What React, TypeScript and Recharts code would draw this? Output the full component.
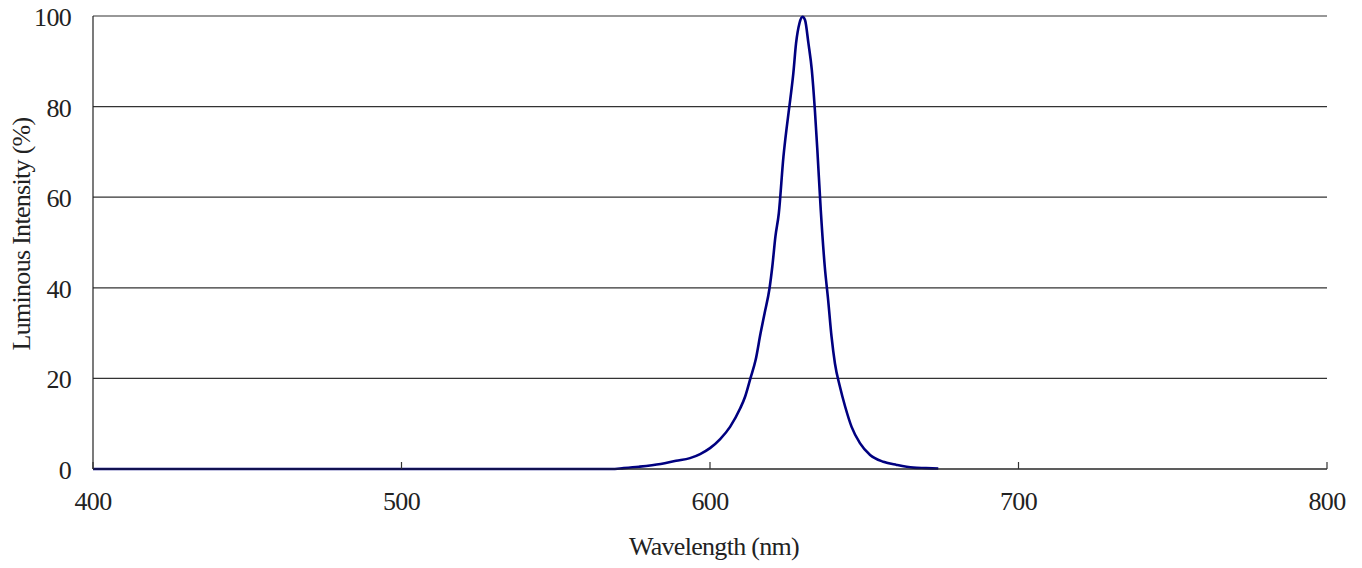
import React from 'react';
import { LineChart, Line, XAxis, YAxis, CartesianGrid, Label } from 'recharts';

const wavelengths = [
  400, 450, 500, 550, 568, 572, 577, 584, 589, 593.5, 596.8, 600, 603.3, 606.5, 609.8, 611.4,
  613.1, 614.8, 616.4, 617.7, 619.3, 620.2, 621.2, 622.3, 623.8, 624.9, 626, 627, 627.9, 629,
  630, 630.8, 631.9, 633, 634, 634.8, 635.9, 637.2, 638.3, 639.4, 640.5, 642.1, 643.8, 645.9,
  648.6, 651.9, 656.2, 660.5, 665.9, 670, 674,
];
const intensities = [
  0, 0, 0, 0, 0, 0.2, 0.5, 1.1, 1.8, 2.4, 3.3, 4.6, 6.6, 9.3, 13.4, 16,
  20, 24.1, 30, 34.4, 39.9, 44.7, 51.3, 56.4, 68.9, 75.6, 81.5, 87.3, 94, 98.4,
  99.8, 99.1, 94, 88.1, 79.2, 70.4, 57.2, 44.7, 37.3, 29.2, 23.3, 18.2, 13.8, 9.3,
  5.7, 3.1, 1.6, 0.9, 0.3, 0.2, 0.1,
];
const xTicks = [400, 500, 600, 700, 800];
const yTicks = [0, 20, 40, 60, 80, 100];
const xTitle = 'Wavelength (nm)';
const yTitle = 'Luminous Intensity (%)';

const data = wavelengths.map((w, i) => ({ w, v: intensities[i] }));

const FONT = '"Liberation Serif", "DejaVu Serif", serif';
const textStyle = { fontFamily: FONT, fontSize: 26, letterSpacing: -0.7, fill: '#222' };

const XTick = (props: any) => {
  const { x, y, payload } = props;
  return (
    <g>
      <line x1={x} x2={x} y1={y} y2={y - 7} stroke="#333" strokeWidth={1.2} />
      <text x={x} y={y + 41} textAnchor="middle" style={textStyle}>
        {payload.value}
      </text>
    </g>
  );
};

const YTick = (props: any) => {
  const { x, y, payload } = props;
  return (
    <text x={x - 22} y={y + 10} textAnchor="end" style={textStyle}>
      {payload.value}
    </text>
  );
};

const XTitle = () => (
  <text x={714} y={555} textAnchor="middle" style={textStyle}>
    {xTitle}
  </text>
);

const YTitle = () => (
  <text x={30} y={234} textAnchor="middle" transform="rotate(-90, 30, 234)" style={textStyle}>
    {yTitle}
  </text>
);

export default function App() {
  return (
    <div style={{ position: 'absolute', left: 0, top: 0, width: 1362, height: 568, background: '#fff' }}>
      <LineChart width={1362} height={568} data={data} margin={{ top: 16, right: 35, bottom: 0, left: 0 }}>
        <CartesianGrid vertical={false} stroke="#333" strokeWidth={1.2} horizontalValues={yTicks} />
        <XAxis
          dataKey="w"
          type="number"
          domain={[400, 800]}
          ticks={xTicks}
          height={99}
          tickLine={false}
          tickSize={0}
          tickMargin={0}
          tick={<XTick />}
          axisLine={{ stroke: '#222', strokeWidth: 1.2 }}
          interval={0}
        >
          <Label content={<XTitle />} />
        </XAxis>
        <YAxis
          type="number"
          domain={[0, 100]}
          ticks={yTicks}
          width={93}
          tickLine={false}
          tickSize={0}
          tickMargin={0}
          tick={<YTick />}
          axisLine={{ stroke: '#222', strokeWidth: 1.2 }}
          interval={0}
        >
          <Label content={<YTitle />} />
        </YAxis>
        <Line
          type="monotone"
          dataKey="v"
          stroke="#000080"
          strokeWidth={2.6}
          dot={false}
          isAnimationActive={false}
        />
      </LineChart>
    </div>
  );
}
